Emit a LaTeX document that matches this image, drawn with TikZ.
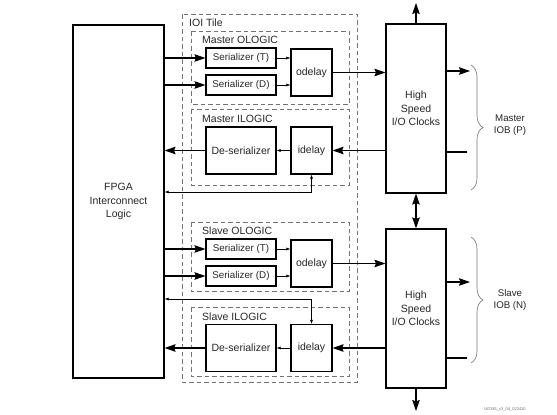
\documentclass[tikz,border=0pt]{standalone}
\usepackage{fontspec}
\setmainfont{Liberation Sans}
\usetikzlibrary{arrows.meta, decorations.pathreplacing}

\tikzset{
  blk/.style={draw, line width=1.1pt, inner sep=0pt, align=center, font=\fontsize{10.5}{13.3}\selectfont},
  ser/.style={blk, minimum width=70pt, minimum height=20pt, font=\fontsize{9.8}{12}\selectfont},
  dly/.style={blk, minimum width=41pt, minimum height=47pt},
  tile/.style={draw=black!55, line width=0.8pt, dash pattern=on 4.5pt off 3pt},
  title/.style={anchor=west, inner sep=0pt, font=\fontsize{10.5}{12}\selectfont},
  iob/.style={align=center, inner sep=0pt, font=\fontsize{9.7}{12}\selectfont},
  bigarrow/.style={line width=1.2pt, -{Stealth[length=11pt,width=7.5pt,inset=1.5pt]}},
  bothbig/.style={line width=1.2pt, {Stealth[length=11pt,width=7.5pt,inset=1.5pt]}-{Stealth[length=11pt,width=7.5pt,inset=1.5pt]}},
  smallarrow/.style={line width=0.5pt, -{Latex[length=4pt,width=3pt]}},
  thinboth/.style={line width=0.6pt, {Latex[length=4pt,width=3pt]}-{Latex[length=4pt,width=3pt]}},
  wire/.style={line width=1.2pt},
  brc/.style={draw=black!55, line width=0.6pt, decorate, decoration={brace, amplitude=12pt}},
}

\begin{document}
\begin{tikzpicture}[x=1pt, y=-1pt, text=black!85]
    \useasboundingbox (0,0) rectangle (557,415);

    \node[blk, minimum width=91pt, minimum height=353pt] (fpga) at (118.5,201.5) {FPGA\\Interconnect\\Logic};
    \node[blk, minimum width=60pt, minimum height=169pt] (hsm) at (416,108.5) {High\\Speed\\I/O Clocks};
    \node[blk, minimum width=60pt, minimum height=159pt] (hss) at (416,308.5) {High\\Speed\\I/O Clocks};

    \draw[tile] (182,14) rectangle (357,382);
    \node[title] (ioi) at (189,23) {IOI Tile};

    \foreach \n/\nm/\o/\top/\bot in {m/Master/0/31/104, s/Slave/191/222/291} {
        \draw[tile] (191,\top) rectangle (349,\bot);
        \node[title] (olog\n) at (202,\top+9) {\nm\ OLOGIC};
        \node[ser] (sert\n) at (241,58+\o) {Serializer (T)};
        \node[ser] (serd\n) at (241,85+\o) {Serializer (D)};
        \node[dly] (odly\n) at (311.5,72.5+\o) {odelay};
        \draw[bigarrow] (fpga.east |- sert\n) -- (sert\n);
        \draw[bigarrow] (fpga.east |- serd\n) -- (serd\n);
        \draw[smallarrow] (sert\n) -- (odly\n.west |- sert\n);
        \draw[smallarrow] (serd\n) -- (odly\n.west |- serd\n);
        \draw[bigarrow] (odly\n) -- (hs\n.west |- odly\n);
    }

    \foreach \n/\nm/\i/\top/\bot in {m/Master/150.5/109/185, s/Slave/348/307/376} {
        \draw[tile] (191,\top) rectangle (349,\bot);
        \node[title] (ilog\n) at (202,\top+10) {\nm\ ILOGIC};
        \node[blk, minimum width=70pt, minimum height=47pt] (dser\n) at (241,\i) {De-serializer};
        \node[dly] (idly\n) at (311.5,\i) {idelay};
        \draw[bigarrow] (hs\n.west |- idly\n) -- (idly\n);
        \draw[smallarrow] (idly\n) -- (dser\n);
        \draw[bigarrow] (dser\n) -- (fpga.east |- dser\n);
    }

    \coordinate (fbm) at (311.5,192);
    \coordinate (fbs) at (311.5,299);
    \draw[thinboth] (fpga.east |- fbm) -- (fbm) -- (idlym.south);
    \draw[thinboth] (fpga.east |- fbs) -- (fbs) -- (idlys.north);

    \coordinate (clkt) at (416,3);
    \coordinate (clkb) at (416,411);
    \draw[bigarrow] (hsm) -- (clkt);
    \draw[bothbig] (hsm) -- (hss);
    \draw[bigarrow] (hss) -- (clkb);

    \coordinate (padom) at (470,71);
    \coordinate (padim) at (467,152);
    \coordinate (pados) at (470,282);
    \coordinate (padis) at (467,358);
    \draw[bigarrow] (hsm.east |- padom) -- (padom);
    \draw[wire] (padim) -- (hsm.east |- padim);
    \draw[bigarrow] (hss.east |- pados) -- (pados);
    \draw[wire] (padis) -- (hss.east |- padis);

    \draw[brc] (471,65) -- (471,190);
    \draw[brc] (471,237) -- (471,363);
    \node[iob] (iobp) at (510,125) {Master\\IOB (P)};
    \node[iob] (iobn) at (510,300) {Slave\\IOB (N)};

    \node[font=\fontsize{4}{4}\selectfont, text=black!60] (fig) at (505,409) {UG381\_c3\_04\_022410};
\end{tikzpicture}
\end{document}
